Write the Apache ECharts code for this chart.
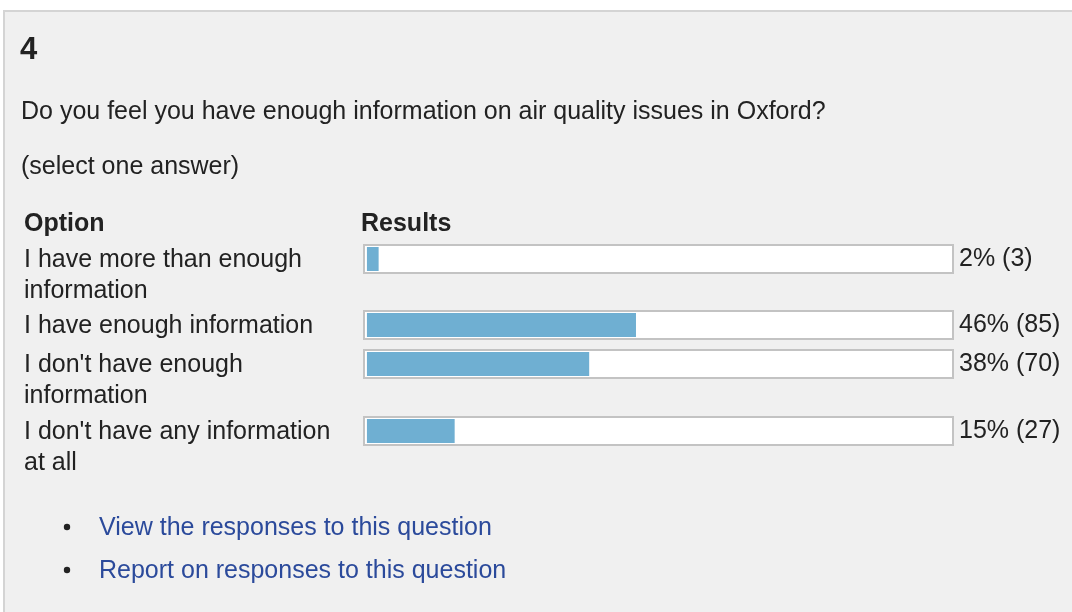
<!DOCTYPE html>
<html>
<head>
<meta charset="utf-8">
<script src="https://cdn.jsdelivr.net/npm/echarts@6/dist/echarts.min.js"></script>
<style>
html,body{margin:0;padding:0;background:#fff;}
#chart{width:1072px;height:612px;}
</style>
</head>
<body>
<div id="chart"></div>
<script>
// ---- data ----
var questionNumber = '4';
var questionText = 'Do you feel you have enough information on air quality issues in Oxford?';
var instructionText = '(select one answer)';
var headerOption = 'Option';
var headerResults = 'Results';
var options = [
  'I have more than enough information',
  'I have enough information',
  "I don't have enough information",
  "I don't have any information at all"
];
var percents = [2, 46, 38, 15];
var counts = [3, 85, 70, 27];
var links = ['View the responses to this question', 'Report on responses to this question'];

// ---- layout ----
var FONT = '"Liberation Sans", Arial, Helvetica, sans-serif';
var TEXT = '#222222';
var FS = 25;
var rowTops = [245, 311, 350, 417];
var grids = [], xAxes = [], yAxes = [], series = [];
options.forEach(function (name, i) {
  grids.push({
    left: 364, top: rowTops[i], width: 589, height: 28,
    show: true, backgroundColor: '#ffffff', borderColor: '#c3c3c3', borderWidth: 2,
    containLabel: false
  });
  xAxes.push({
    type: 'value', gridIndex: i, min: -0.5, max: 100.2, show: false
  });
  yAxes.push({
    type: 'category', gridIndex: i, position: 'left', data: [name],
    axisLine: {show: false}, axisTick: {show: false}, splitLine: {show: false},
    axisLabel: {
      margin: 340, align: 'left', verticalAlign: 'top', padding: [-14.5, 0, 0, 0],
      lineHeight: 31, width: 322, overflow: 'break',
      fontSize: FS, fontFamily: FONT, color: TEXT
    }
  });
  yAxes.push({
    type: 'category', gridIndex: i, position: 'right',
    data: [percents[i] + '% (' + counts[i] + ')'],
    axisLine: {show: false}, axisTick: {show: false}, splitLine: {show: false},
    axisLabel: {
      margin: 6, align: 'left', verticalAlign: 'middle', padding: [2, 0, 0, 0],
      fontSize: FS, fontFamily: FONT, color: TEXT
    }
  });
  series.push({
    type: 'bar', name: name, xAxisIndex: i, yAxisIndex: 2 * i,
    data: [percents[i]], barWidth: 24, silent: true, animation: false,
    itemStyle: {color: '#6fafd2'}
  });
});

function txt(x, y, s, size, weight, color) {
  return {
    type: 'text', x: x, y: y, silent: true,
    style: {text: s, fontSize: size, fontWeight: weight || 'normal', fontFamily: FONT,
      fill: color || TEXT, align: 'left', verticalAlign: 'middle'}
  };
}

var graphics = [
  {type: 'rect', z: -10, silent: true, shape: {x: 4, y: 11, width: 1200, height: 800},
   style: {fill: '#f0f0f0', stroke: '#d4d4d4', lineWidth: 2}},
  txt(20, 50, questionNumber, 31, 'bold'),
  txt(21, 112, questionText, FS),
  txt(21, 167, instructionText, FS),
  txt(24, 224, headerOption, FS, 'bold'),
  txt(361, 224, headerResults, FS, 'bold')
];
var linkY = [526, 569];
links.forEach(function (l, i) {
  graphics.push({type: 'circle', silent: true, shape: {cx: 67, cy: linkY[i] + 1, r: 3.2}, style: {fill: '#222'}});
  graphics.push(txt(99, linkY[i] + 2, l, FS, 'normal', '#2b4a9b'));
});

var chart = echarts.init(document.getElementById('chart'), null, {renderer: 'canvas'});
chart.setOption({
  animation: false,
  backgroundColor: '#ffffff',
  grid: grids,
  xAxis: xAxes,
  yAxis: yAxes,
  series: series,
  graphic: graphics
});
</script>
</body>
</html>
